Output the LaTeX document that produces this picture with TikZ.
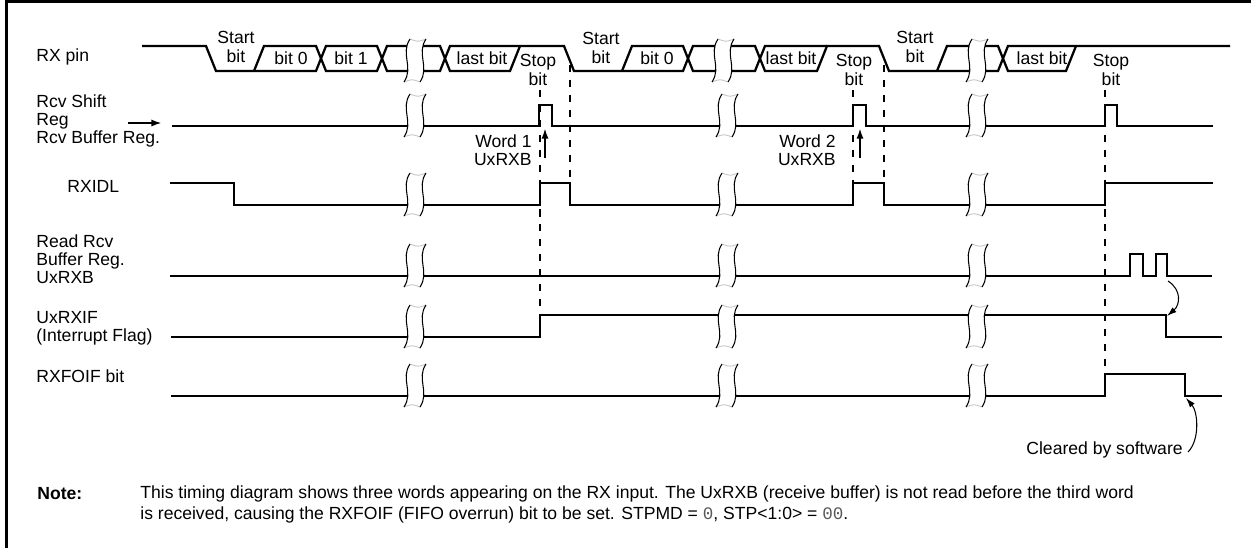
\documentclass[tikz,border=0pt]{standalone}
\usepackage{fontspec}
\setmainfont{Liberation Sans}
\setmonofont{Liberation Mono}
\usetikzlibrary{arrows.meta}
\tikzset{sig/.style={line width=1.3pt},
  dsh/.style={line width=1.2pt, dash pattern=on 4pt off 4.5pt},
  lbl/.style={anchor=west, align=left, inner sep=0pt, font=\fontsize{10}{10.3}\selectfont},
  txt/.style={align=center, inner sep=0pt, font=\fontsize{10}{10.5}\selectfont},
  arr/.style={line width=1.3pt, -{Latex[length=6pt,width=4pt]}},
  carr/.style={line width=0.6pt, -{Latex[length=5.5pt,width=3.5pt]}}}
\newcommand{\tdbreak}[2]{%
\fill[white] (#1-5,#2-32) .. controls (#1-15,#2-17) and (#1-1,#2-4) .. (#1-11,#2+11) -- (#1+5,#2+11) .. controls (#1+15,#2-4) and (#1+1,#2-17) .. (#1+11,#2-32) -- cycle;
\draw[gray!45, line width=0.5pt] (#1-5,#2-32) .. controls (#1+3,#2-29) .. (#1+11,#2-32);
\draw[gray!45, line width=0.5pt] (#1-11,#2+11) .. controls (#1-3,#2+8) .. (#1+5,#2+11);
\draw[line width=0.6pt] (#1-5,#2-32) .. controls (#1-15,#2-17) and (#1-1,#2-4) .. (#1-11,#2+11);
\draw[line width=0.6pt] (#1+11,#2-32) .. controls (#1+1,#2-17) and (#1+15,#2-4) .. (#1+5,#2+11);}
\newcommand{\tdmono}[1]{{\ttfamily\color{black!65}#1}}

\begin{document}
\begin{tikzpicture}[x=0.02cm,y=-0.02cm]
\useasboundingbox (0,0) rectangle (1251,548);
\draw[line width=1.7pt] (6.5,548) -- (6.5,1.5) -- (1251,1.5);

\node at (36,57) (rxpin) [lbl] {RX pin};
\node at (36,121) (rcvreg) [lbl] {Rcv Shift\\Reg\\Rcv Buffer Reg.};
\node at (67,186) (rxidl) [lbl] {RXIDL};
\node at (36,259) (readrcv) [lbl] {Read Rcv\\Buffer Reg.\\UxRXB};
\node at (36,328) (uxrxif) [lbl] {UxRXIF\\(Interrupt Flag)};
\node at (36,376) (rxfoif) [lbl] {RXFOIF bit};

\draw[sig] (142,46) -- (206,46) -- (216,71) -- (316,71) -- (326,46) -- (377,46) -- (387,71) -- (440,71) -- (450,46) -- (564,46) -- (574,71) -- (683,71) -- (693,46) -- (755,46) -- (765,71) -- (817,71) -- (827,46) -- (879,46) -- (889,71) -- (998,71) -- (1008,46) -- (1230,46);
\draw[sig] (254,71) -- (264,46) -- (316,46) -- (326,71) -- (377,71) -- (387,46) -- (440,46) -- (450,71) -- (510,71) -- (520,46);
\draw[sig] (622,71) -- (632,46) -- (683,46) -- (693,71) -- (755,71) -- (765,46) -- (827,46);
\draw[sig] (937,71) -- (947,46) -- (998,46) -- (1008,71) -- (1066,71) -- (1076,46);

\draw[sig] (172,126) -- (539,126) -- (539,105) -- (552,105) -- (552,126) -- (853,126) -- (853,105) -- (866,105) -- (866,126) -- (1105,126) -- (1105,105) -- (1117,105) -- (1117,126) -- (1213,126);
\draw[sig] (170,183) -- (234,183) -- (234,205) -- (540,205) -- (540,183) -- (570,183) -- (570,205) -- (853,205) -- (853,183) -- (884,183) -- (884,205) -- (1105,205) -- (1105,183) -- (1213,183);
\draw[sig] (170,276) -- (1130,276) -- (1130,254) -- (1143,254) -- (1143,276) -- (1156,276) -- (1156,254) -- (1167,254) -- (1167,276) -- (1212,276);
\draw[sig] (171,337) -- (540,337) -- (540,315) -- (1166,315) -- (1166,337) -- (1222,337);
\draw[sig] (171,396) -- (1105,396) -- (1105,374) -- (1185,374) -- (1185,396) -- (1222,396);

\tdbreak{415}{71} \tdbreak{723}{71} \tdbreak{977}{71}
\tdbreak{415}{126} \tdbreak{727}{126} \tdbreak{977}{126}
\tdbreak{415}{205} \tdbreak{727}{205} \tdbreak{977}{205}
\tdbreak{415}{276} \tdbreak{727}{276} \tdbreak{977}{276}
\tdbreak{415}{337} \tdbreak{727}{337} \tdbreak{977}{337}
\tdbreak{415}{396} \tdbreak{727}{396} \tdbreak{977}{396}

\draw[dsh] (540,90) -- (540,315);
\draw[dsh] (570,65) -- (570,183);
\draw[dsh] (853,90) -- (853,183);
\draw[dsh] (884,65) -- (884,183);
\draw[dsh] (1105,90) -- (1105,374);

\node at (236,47) (start1) [txt] {Start\\bit};
\node at (291,58) (bit10) [txt] {bit 0};
\node at (351,58) (bit11) [txt] {bit 1};
\node at (482,58) (last1) [txt] {last bit};
\node at (538,70) (stop1) [txt] {Stop\\bit};
\node at (601,48) (start2) [txt] {Start\\bit};
\node at (657,58) (bit20) [txt] {bit 0};
\node at (791,58) (last2) [txt] {last bit};
\node at (854,70) (stop2) [txt] {Stop\\bit};
\node at (915,47) (start3) [txt] {Start\\bit};
\node at (1042,58) (last3) [txt] {last bit};
\node at (1111,70) (stop3) [txt] {Stop\\bit};

\coordinate (rin) at (128,123);
\coordinate (rout) at (162,123);
\draw[arr] (rin) -- (rout);

\node at (532,150) (word1) [lbl, anchor=east, align=right] {Word 1\\UxRXB};
\node at (836,150) (word2) [lbl, anchor=east, align=right] {Word 2\\UxRXB};
\coordinate (w1s) at (545,158);
\coordinate (w1e) at (545,128);
\coordinate (w2s) at (860,158);
\coordinate (w2e) at (860,128);
\draw[arr] (w1s) -- (w1e);
\draw[arr] (w2s) -- (w2e);

\coordinate (rdend) at (1168,281);
\coordinate (iffall) at (1167,316);
\draw[carr] (rdend) .. controls (1182,290) and (1180,305) .. (iffall);

\node at (1183,450) (clr) [lbl, anchor=east] {Cleared by software};
\coordinate (clrs) at (1188,452);
\coordinate (clre) at (1186,398);
\draw[carr] (clrs) .. controls (1200,440) and (1198,412) .. (clre);

\node at (37,494) (note) [lbl] {\bfseries Note:};
\node at (140,504.5) (notetxt) [lbl, font=\fontsize{10}{11.5}\selectfont] {This timing diagram shows three words appearing on the RX input. The UxRXB (receive buffer) is not read before the third word\\is received, causing the RXFOIF (FIFO overrun) bit to be set. STPMD = \tdmono{0}, STP<1:0> = \tdmono{00}.};
\end{tikzpicture}
\end{document}
